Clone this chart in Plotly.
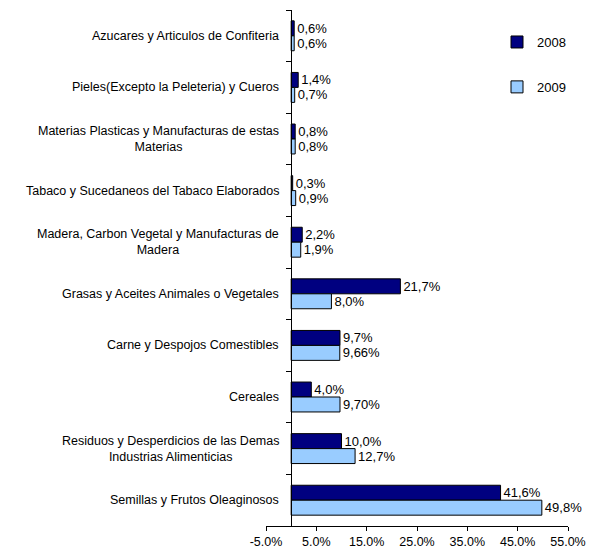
import plotly.graph_objects as go

# categories listed top to bottom, as in the chart
categories = [
    "Azucares y Articulos de Confiteria",
    "Pieles(Excepto la Peleteria) y Cueros",
    "Materias Plasticas y Manufacturas de estas<br>Materias",
    "Tabaco y Sucedaneos del Tabaco Elaborados",
    "Madera, Carbon Vegetal y Manufacturas de<br>Madera",
    "Grasas y Aceites Animales o Vegetales",
    "Carne y Despojos Comestibles",
    "Cereales",
    "Residuos y Desperdicios de las Demas<br>Industrias Alimenticias",
    "Semillas y Frutos Oleaginosos",
]
values_2008 = [0.6, 1.4, 0.8, 0.3, 2.2, 21.7, 9.7, 4.0, 10.0, 41.6]
values_2009 = [0.6, 0.7, 0.8, 0.9, 1.9, 8.0, 9.66, 9.70, 12.7, 49.8]
labels_2008 = ["0,6%", "1,4%", "0,8%", "0,3%", "2,2%", "21,7%", "9,7%", "4,0%", "10,0%", "41,6%"]
labels_2009 = ["0,6%", "0,7%", "0,8%", "0,9%", "1,9%", "8,0%", "9,66%", "9,70%", "12,7%", "49,8%"]
tick_vals = [-5, 5, 15, 25, 35, 45, 55]
tick_text = ["-5.0%", "5.0%", "15.0%", "25.0%", "35.0%", "45.0%", "55.0%"]

W, H = 589, 550
FONT = "Liberation Sans, Arial, sans-serif"

fig = go.Figure()

fig.add_trace(go.Bar(
    y=categories, x=values_2008, orientation="h", name="2008",
    marker=dict(color="#000080", line=dict(color="#000000", width=1)),
    text=labels_2008, textposition="outside", constraintext="none",
    cliponaxis=False, textfont=dict(size=13, color="#000000"),
    legendgroup="a",
))
fig.add_trace(go.Bar(
    y=categories, x=values_2009, orientation="h", name="2009",
    marker=dict(color="#99CCFF", line=dict(color="#000000", width=1)),
    text=labels_2009, textposition="outside", constraintext="none",
    cliponaxis=False, textfont=dict(size=13, color="#000000"),
    legendgroup="b",
))

# category labels, centred lines like the original
for cat in categories:
    fig.add_annotation(
        x=281 / W, xref="paper", y=cat, yref="y",
        text=cat, showarrow=False, xanchor="right", align="center",
        font=dict(size=12.5, color="#000000", family=FONT),
    )

fig.update_layout(
    width=W, height=H,
    margin=dict(l=0, r=0, t=10, b=24, autoexpand=False),
    plot_bgcolor="white", paper_bgcolor="white",
    font=dict(family=FONT, size=12, color="#000000"),
    barmode="group", bargap=0.42, bargroupgap=0,
    legend=dict(
        x=497 / W, y=0.967, xanchor="left", yanchor="top",
        traceorder="grouped", tracegroupgap=25,
        font=dict(size=13), bgcolor="rgba(0,0,0,0)",
    ),
    xaxis=dict(
        domain=[266 / W, 568 / W], range=[-5, 55],
        tickvals=tick_vals, ticktext=tick_text,
        showgrid=False, zeroline=False, automargin=False,
        showline=True, linecolor="#000000", linewidth=1,
        ticks="outside", ticklen=4, tickcolor="#000000",
        tickfont=dict(size=12.5),
    ),
    yaxis=dict(
        categoryorder="array", categoryarray=categories,
        autorange="reversed", automargin=False,
        anchor="free", position=291.2 / W,
        showticklabels=False, showgrid=False, zeroline=False,
        showline=True, linecolor="#000000", linewidth=1,
        ticks="outside", ticklen=5, tickcolor="#000000",
        tickson="boundaries",
    ),
)

# drop the page's default body margin so the figure sits at the top-left corner
fig.write_html(
    "out.html",
    config={"displayModeBar": False},
    post_script="document.body.style.margin='0';",
)
